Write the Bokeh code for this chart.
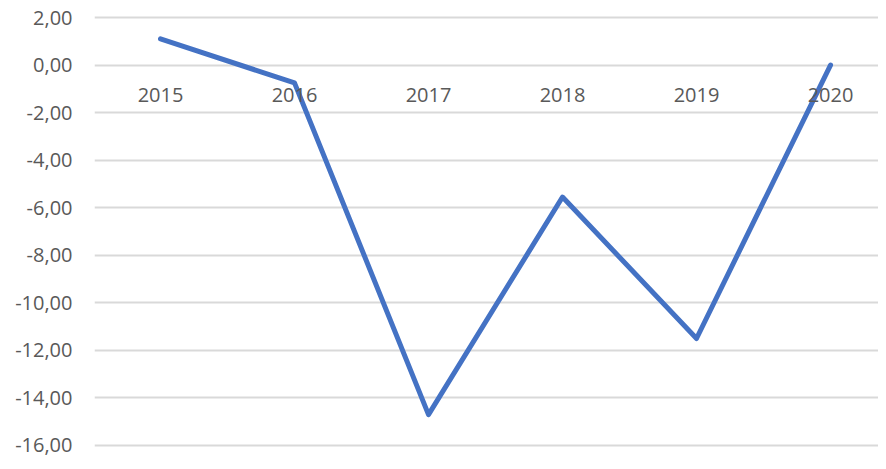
from bokeh.plotting import figure
from bokeh.models import FixedTicker, Range1d
from bokeh.embed import file_html
from bokeh.resources import INLINE

years = ["2015", "2016", "2017", "2018", "2019", "2020"]
values = [1.1, -0.75, -14.7, -5.55, -11.5, 0.0]
y_ticks = [2, 0, -2, -4, -6, -8, -10, -12, -14, -16]
y_labels = ["2,00", "0,00", "-2,00", "-4,00", "-6,00", "-8,00", "-10,00", "-12,00", "-14,00", "-16,00"]

xs = list(range(len(years)))

p = figure(width=878, height=461, output_backend="svg", toolbar_location=None,
           x_range=Range1d(-0.4925, 5.358), y_range=Range1d(-16.673, 2.715),
           min_border_left=94, min_border_right=0, min_border_top=0, min_border_bottom=0)
p.outline_line_color = None
p.background_fill_color = "white"
p.border_fill_color = "white"

p.line(xs, values, line_color="#4472C4", line_width=5, line_join="round", line_cap="round")

grid_color = "#d9d9d9"
p.xgrid.visible = False
p.ygrid.ticker = FixedTicker(ticks=y_ticks)
p.ygrid.grid_line_color = grid_color
p.ygrid.grid_line_width = 2

p.yaxis.ticker = FixedTicker(ticks=y_ticks)
p.yaxis.major_label_overrides = {t: l for t, l in zip(y_ticks, y_labels)}
p.yaxis.axis_line_color = None
p.yaxis.major_tick_line_color = None
p.yaxis.minor_tick_line_color = None
p.yaxis.major_tick_out = 0
p.yaxis.major_tick_in = 0
p.yaxis.major_label_standoff = 22
p.yaxis.major_label_text_font = "Open Sans"
p.yaxis.major_label_text_font_size = "20px"
p.yaxis.major_label_text_color = "#595959"

p.xaxis.fixed_location = 0
p.xaxis.ticker = FixedTicker(ticks=xs)
p.xaxis.major_label_overrides = {x: y for x, y in zip(xs, years)}
p.xaxis.axis_line_color = None
p.xaxis.major_tick_line_color = None
p.xaxis.minor_tick_line_color = None
p.xaxis.major_tick_out = 0
p.xaxis.major_tick_in = 0
p.xaxis.major_label_standoff = 23
p.xaxis.major_label_text_font = "Open Sans"
p.xaxis.major_label_text_font_size = "20px"
p.xaxis.major_label_text_color = "#595959"

open("out.html", "w").write(file_html(p, INLINE))
